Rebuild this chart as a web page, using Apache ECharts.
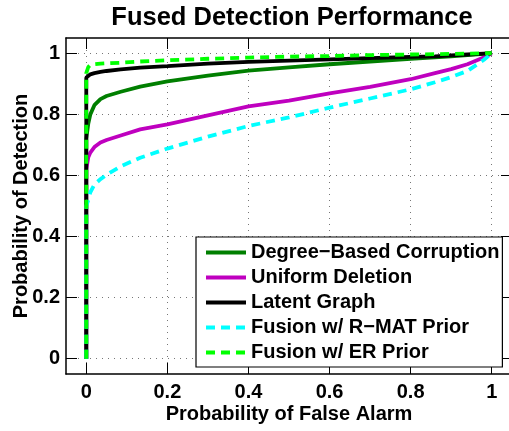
<!DOCTYPE html>
<html>
<head>
<meta charset="utf-8">
<script src="https://cdn.jsdelivr.net/npm/echarts@6/dist/echarts.min.js"></script>
<style>
  html, body { margin: 0; padding: 0; background: #fff; }
  #chart { width: 509px; height: 431px; }
</style>
</head>
<body>
<div id="chart"></div>
<script>
// probability of false alarm (shared x samples; first two points make the vertical rise at x = 0)
var fpr = [0, 0, 0.005, 0.01, 0.02, 0.035, 0.05, 0.085, 0.133, 0.2, 0.3, 0.4, 0.5, 0.6, 0.7, 0.8, 0.86, 0.9, 0.94, 0.98, 1];

// probability of detection per method
var degreePd  = [0, 0.72, 0.77, 0.80, 0.83, 0.85, 0.86, 0.874, 0.891, 0.908, 0.927, 0.943, 0.954, 0.964, 0.973, 0.982, 0.987, 0.99, 0.994, 0.998, 1];
var uniformPd = [0, 0.62, 0.66, 0.675, 0.693, 0.708, 0.716, 0.731, 0.751, 0.767, 0.797, 0.826, 0.845, 0.869, 0.89, 0.915, 0.935, 0.948, 0.964, 0.986, 1];
var latentPd  = [0, 0.92, 0.926, 0.931, 0.935, 0.939, 0.942, 0.947, 0.953, 0.958, 0.966, 0.972, 0.976, 0.98, 0.984, 0.988, 0.99, 0.993, 0.996, 0.999, 1];
var rmatPd    = [0, 0.50, 0.52, 0.545, 0.57, 0.588, 0.602, 0.63, 0.658, 0.688, 0.727, 0.762, 0.79, 0.822, 0.852, 0.882, 0.905, 0.922, 0.942, 0.978, 1];
var erPd      = [0, 0.935, 0.955, 0.962, 0.964, 0.966, 0.967, 0.969, 0.973, 0.977, 0.982, 0.986, 0.989, 0.991, 0.994, 0.996, 0.997, 0.998, 0.999, 1, 1];

var seriesNames = ['Degree\u2212Based Corruption', 'Uniform Deletion', 'Latent Graph', 'Fusion w/ R\u2212MAT Prior', 'Fusion w/ ER Prior'];
var xTicks = [0, 0.2, 0.4, 0.6, 0.8, 1];
var yTicks = [0, 0.2, 0.4, 0.6, 0.8, 1];

var FONT = '"Liberation Sans", Arial, sans-serif';

function pairs(ys) {
  return fpr.map(function (x, i) { return [x, ys[i]]; });
}

function makeLine(name, ys, color, dashed) {
  return {
    name: name,
    type: 'line',
    data: pairs(ys),
    symbol: 'none',
    smooth: false,
    animation: false,
    lineStyle: { color: color, width: 3.8, type: dashed ? [9, 6] : 'solid' },
    itemStyle: { color: color }
  };
}

function tickLabel(v) {
  return String(Math.round(v * 10) / 10);
}

var chart = echarts.init(document.getElementById('chart'), null, { renderer: 'canvas' });

var gridLine = { show: true, lineStyle: { color: '#777', width: 1, type: [1, 5] } };
var axisLineStyle = { show: true, onZero: false, lineStyle: { color: '#000', width: 1.5 } };
var tickStyle = { color: '#000', width: 1 };
var nameStyle = { fontFamily: FONT, fontWeight: 'bold', fontSize: 20, color: '#000' };

chart.setOption({
  backgroundColor: '#fff',
  animation: false,
  title: {
    text: 'Fused Detection Performance',
    left: 287, top: 0, textAlign: 'center',
    textStyle: { fontFamily: FONT, fontWeight: 'bold', fontSize: 25.5, color: '#000' }
  },
  grid: { left: 66, top: 38, width: 446, height: 336, containLabel: false, outerBoundsMode: 'none' },
  legend: {
    orient: 'vertical',
    left: 196, top: 237,
    padding: [3, 3, 2, 8],
    itemGap: 0,
    itemWidth: 40, itemHeight: 14,
    backgroundColor: '#fff',
    borderColor: '#000', borderWidth: 1.2,
    itemStyle: { opacity: 0 },
    lineStyle: { width: 4 },
    textStyle: { fontFamily: FONT, fontWeight: 'bold', fontSize: 20, color: '#000', lineHeight: 25 },
    data: seriesNames
  },
  xAxis: [{
    type: 'value', position: 'bottom', min: -0.05, max: 1.05, splitNumber: 5,
    name: 'Probability of False Alarm', nameLocation: 'middle', nameGap: 30, nameMoveOverlap: false,
    nameTextStyle: nameStyle,
    axisLine: axisLineStyle,
    axisTick: { show: true, inside: true, length: 11, customValues: xTicks, lineStyle: tickStyle },
    axisLabel: { customValues: xTicks, formatter: tickLabel, margin: 8, fontFamily: FONT, fontWeight: 'bold', fontSize: 20, color: '#000' },
    splitLine: gridLine
  }, {
    type: 'value', position: 'top', min: -0.05, max: 1.05, splitNumber: 5,
    axisLine: axisLineStyle,
    axisTick: { show: true, inside: true, length: 11, customValues: xTicks, lineStyle: tickStyle },
    axisLabel: { show: false },
    splitLine: { show: false }
  }],
  yAxis: [{
    type: 'value', position: 'left', min: -0.05, max: 1.05, splitNumber: 5,
    name: 'Probability of Detection', nameLocation: 'middle', nameGap: 35, nameMoveOverlap: false,
    nameTextStyle: nameStyle,
    axisLine: axisLineStyle,
    axisTick: { show: true, inside: true, length: 11, customValues: yTicks, lineStyle: tickStyle },
    axisLabel: { customValues: yTicks, formatter: tickLabel, margin: 6, fontFamily: FONT, fontWeight: 'bold', fontSize: 20, color: '#000' },
    splitLine: gridLine
  }, {
    type: 'value', position: 'right', min: -0.05, max: 1.05, splitNumber: 5,
    axisLine: axisLineStyle,
    axisTick: { show: true, inside: true, length: 11, customValues: yTicks, lineStyle: tickStyle },
    axisLabel: { show: false },
    splitLine: { show: false }
  }],
  series: [
    makeLine(seriesNames[0], degreePd, '#007f00', false),
    makeLine(seriesNames[1], uniformPd, '#bf00bf', false),
    makeLine(seriesNames[2], latentPd, '#000000', false),
    makeLine(seriesNames[3], rmatPd, '#00ffff', true),
    makeLine(seriesNames[4], erPd, '#00ff00', true)
  ]
});
</script>
</body>
</html>
